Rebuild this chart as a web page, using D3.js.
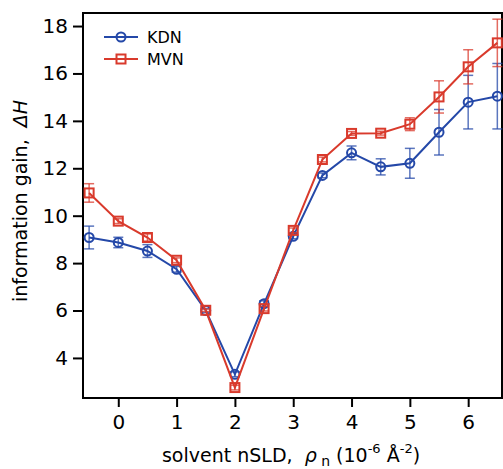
<!DOCTYPE html>
<html>
<head>
<meta charset="utf-8">
<script src="https://cdn.jsdelivr.net/npm/d3@7"></script>
<style>
  body { margin: 0; background: #fff; }
  text { font-family: "DejaVu Sans", sans-serif; }
</style>
</head>
<body>
<svg id="chart"></svg>
<script>
// solvent nSLD values (10^-6 A^-2)
const sld = [-0.5, 0, 0.5, 1, 1.5, 2, 2.5, 3, 3.5, 4, 4.5, 5, 5.5, 6, 6.5];

// KDN estimate and its error
const kdnGain = [9.08, 8.87, 8.51, 7.74, 6.0, 3.31, 6.29, 9.13, 11.7, 12.65, 12.06, 12.21, 13.52, 14.79, 15.04];
const kdnErr  = [0.48, 0.22, 0.27, 0.12, 0.08, 0.1, 0.12, 0.1, 0.1, 0.29, 0.34, 0.63, 0.96, 1.13, 1.38];

// MVN estimate and its error
const mvnGain = [10.96, 9.77, 9.08, 8.12, 6.01, 2.75, 6.08, 9.38, 12.37, 13.47, 13.48, 13.86, 15.01, 16.28, 17.29];
const mvnErr  = [0.39, 0.1, 0.15, 0.1, 0.05, 0.1, 0.1, 0.1, 0.1, 0.08, 0.08, 0.27, 0.68, 0.72, 1.0];

const xTicks = [0, 1, 2, 3, 4, 5, 6];
const yTicks = [4, 6, 8, 10, 12, 14, 16, 18];

const blue = "#2448a8";
const red = "#d93a2c";

const series = [
    { name: "KDN", color: blue, marker: "circle", values: kdnGain, errors: kdnErr },
    { name: "MVN", color: red, marker: "square", values: mvnGain, errors: mvnErr }
];

const width = 503, height = 469;
const margin = { top: 13, right: 1, bottom: 71, left: 83 };

const svg = d3.select("#chart")
    .attr("width", width)
    .attr("height", height);

const x = d3.scaleLinear()
    .domain([-0.605, 6.58])
    .range([margin.left, width - margin.right]);

const y = d3.scaleLinear()
    .domain([2.31, 18.55])
    .range([height - margin.bottom, margin.top]);

// axes
const xAxis = d3.axisBottom(x)
    .tickValues(xTicks)
    .tickSize(9)
    .tickSizeOuter(0)
    .tickPadding(8)
    .tickFormat(d3.format("d"));

const yAxis = d3.axisLeft(y)
    .tickValues(yTicks)
    .tickSize(10)
    .tickSizeOuter(0)
    .tickPadding(5)
    .tickFormat(d3.format("d"));

const gx = svg.append("g")
    .attr("transform", `translate(0,${height - margin.bottom})`)
    .call(xAxis);

const gy = svg.append("g")
    .attr("transform", `translate(${margin.left},0)`)
    .call(yAxis);

[gx, gy].forEach(g => {
    g.select(".domain").remove();
    g.selectAll(".tick line").attr("stroke", "#000").attr("stroke-width", 2);
    g.selectAll(".tick text")
        .attr("fill", "#000")
        .style("font-size", "20px")
        .style("font-family", "DejaVu Sans, sans-serif");
});

// frame
svg.append("rect")
    .attr("x", x.range()[0])
    .attr("y", y.range()[1])
    .attr("width", x.range()[1] - x.range()[0])
    .attr("height", y.range()[0] - y.range()[1])
    .attr("fill", "none")
    .attr("stroke", "#000")
    .attr("stroke-width", 2);

// data
const capHalf = 5;

function drawMarker(g, type, cx, cy, color) {
    if (type === "circle") {
        g.append("circle")
            .attr("cx", cx).attr("cy", cy).attr("r", 4.5)
            .attr("fill", "none")
            .attr("stroke", color)
            .attr("stroke-width", 2);
    } else {
        g.append("rect")
            .attr("x", cx - 4.5).attr("y", cy - 4.5)
            .attr("width", 9).attr("height", 9)
            .attr("fill", "none")
            .attr("stroke", color)
            .attr("stroke-width", 2);
    }
}

series.forEach(s => {
    const pts = sld.map((v, i) => ({ x: v, y: s.values[i], e: s.errors[i] }));
    const g = svg.append("g");

    // error bars
    const eb = g.append("g")
        .attr("stroke", s.color)
        .attr("stroke-opacity", 0.75)
        .attr("stroke-width", 1.5);

    pts.forEach(p => {
        const px = x(p.x);
        eb.append("line")
            .attr("x1", px).attr("x2", px)
            .attr("y1", y(p.y - p.e)).attr("y2", y(p.y + p.e));
        [p.y - p.e, p.y + p.e].forEach(v => {
            eb.append("line")
                .attr("x1", px - capHalf).attr("x2", px + capHalf)
                .attr("y1", y(v)).attr("y2", y(v));
        });
    });

    const line = d3.line()
        .x(d => x(d.x))
        .y(d => y(d.y));

    g.append("path")
        .datum(pts)
        .attr("d", line)
        .attr("fill", "none")
        .attr("stroke", s.color)
        .attr("stroke-width", 2);

    pts.forEach(p => drawMarker(g, s.marker, x(p.x), y(p.y), s.color));
});

// legend
const legend = svg.append("g");
series.forEach((s, i) => {
    const ly = 37 + i * 22;
    legend.append("line")
        .attr("x1", 104).attr("x2", 138)
        .attr("y1", ly).attr("y2", ly)
        .attr("stroke", s.color)
        .attr("stroke-width", 2);
    drawMarker(legend, s.marker, 121, ly, s.color);
    legend.append("text")
        .attr("x", 147)
        .attr("y", ly + 6)
        .style("font-size", "16px")
        .text(s.name);
});

// axis titles
const xTitle = svg.append("text")
    .attr("x", 291)
    .attr("y", 462)
    .attr("text-anchor", "middle")
    .style("font-size", "19px");
xTitle.append("tspan").text("solvent nSLD,\u00a0\u00a0");
xTitle.append("tspan").style("font-style", "italic").text("\u03c1");
xTitle.append("tspan").attr("dy", 4).style("font-size", "14px").text(" n");
xTitle.append("tspan").attr("dy", -4).text(" (10");
xTitle.append("tspan").attr("dy", -9).style("font-size", "13px").text("-6");
xTitle.append("tspan").attr("dy", 9).text(" \u00c5");
xTitle.append("tspan").attr("dy", -9).style("font-size", "13px").text("-2");
xTitle.append("tspan").attr("dy", 9).text(")");

const yTitle = svg.append("text")
    .attr("transform", "translate(27,201) rotate(-90)")
    .attr("text-anchor", "middle")
    .style("font-size", "19px");
yTitle.append("tspan").text("information gain,\u00a0\u00a0");
yTitle.append("tspan").style("font-style", "italic").text("\u0394H");
</script>
</body>
</html>
